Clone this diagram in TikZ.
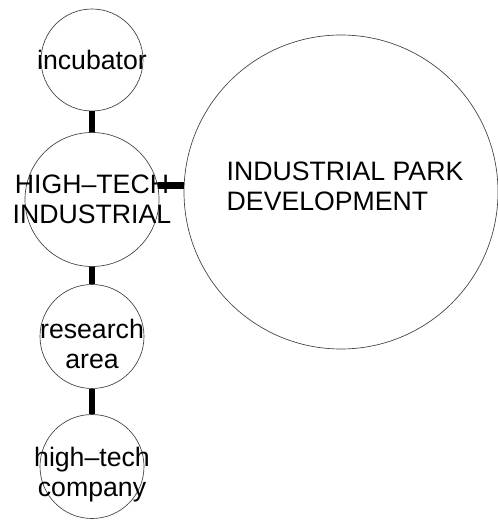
\documentclass[tikz,border=0pt]{standalone}
\usepackage{fontspec}
\setmainfont{Liberation Sans}
\usepackage{tikz}
\usetikzlibrary{calc, positioning}

\begin{document}
\begin{tikzpicture}[x=0.75pt, y=-0.75pt,
    blob/.style={circle, draw=black!75, line width=0.5pt, inner sep=0pt},
    txt/.style={inner sep=0pt, align=center, font=\fontsize{20}{22.5}\selectfont},
    link/.style={line width=5.2pt}]
    \useasboundingbox (0,0) rectangle (498,523);
    % small circles on the left
    \node[blob, minimum size=76.5pt] (inc) at (92,60) {};
    \node[blob, minimum size=100.5pt] (ht) at (92,199.5) {};
    \node[blob, minimum size=78pt] (res) at (92,336.5) {};
    \node[blob, minimum size=78pt] (comp) at (92,466.5) {};
    % big circle
    \node[blob, minimum size=235.5pt] (park) at (341,192) {};
    \node[txt] (incT) at (inc) {incubator};
    \node[txt] (htT) at (92,199) {HIGH--TECH\\INDUSTRIAL};
    \node[txt] (resT) at (92,344) {research\\area};
    \node[txt] (compT) at (92,475) {high--tech\\company};
    \node[txt, align=left] (parkT) at (345,186) {INDUSTRIAL PARK\\DEVELOPMENT};
    \draw[link] (inc) -- (ht);
    \draw[link] (ht) -- (res);
    \draw[link] (res) -- (comp);
    \draw[link] (ht.12) -- (ht.12 -| park.west);
\end{tikzpicture}
\end{document}
